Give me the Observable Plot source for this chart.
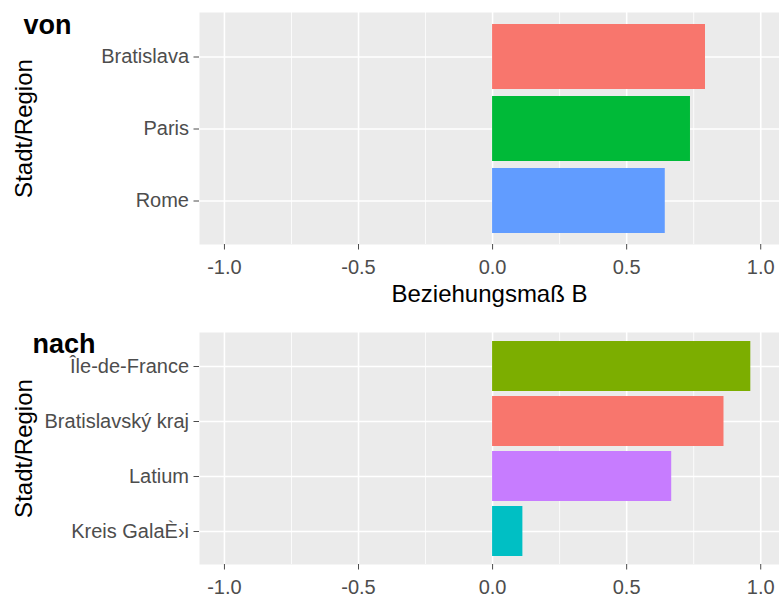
<!DOCTYPE html>
<html><head><meta charset="utf-8">
<script src="https://cdn.jsdelivr.net/npm/d3@7"></script>
<script src="https://cdn.jsdelivr.net/npm/@observablehq/plot@0.6"></script>
<style>
body{margin:0;background:#fff;font-family:"Liberation Sans",Arial,sans-serif;}
#wrap{position:relative;width:779px;height:597px;overflow:hidden;}
#top{position:absolute;left:0;top:0;}
#bottom{position:absolute;left:0;top:320px;}
</style></head><body><div id="wrap"><div id="top"></div><div id="bottom"></div></div>
<script>
// data
const vonNames = ["Bratislava", "Paris", "Rome"];
const vonValues = [0.794, 0.738, 0.644];
const vonColors = ["#F8766D", "#00BA38", "#619CFF"];

const nachNames = ["Île-de-France", "Bratislavský kraj", "Latium", "Kreis GalaÈ›i"];
const nachValues = [0.963, 0.863, 0.668, 0.113];
const nachColors = ["#7CAE00", "#F8766D", "#C77CFF", "#00BFC4"];

const xTicks = [-1, -0.5, 0, 0.5, 1];
const xMinor = [-0.75, -0.25, 0.25, 0.75];
const xDomain = [-1.093, 1.07];
const yLabel = "Stadt/Region";
const xLabel = "Beziehungsmaß B";

function panel({names, values, colors, title, titleDx, titleDy, xTitle, height, marginBottom}) {
  const data = names.map((n, i) => ({name: n, value: values[i], color: colors[i]}));
  const marks = [
    Plot.frame({fill: "#EBEBEB", stroke: "none"}),
    Plot.ruleX(xMinor, {stroke: "white", strokeWidth: 0.8}),
    Plot.ruleX(xTicks, {stroke: "white", strokeWidth: 1.6}),
    Plot.ruleY(names, {y: d => d, stroke: "white", strokeWidth: 1.6}),
    Plot.barX(data, {x: "value", y: "name", fill: "color"}),
    Plot.axisX({ticks: xTicks, tickFormat: d => d.toFixed(1), tickSize: 5.5, tickPadding: 10, fontSize: 20, color: "#4D4D4D", label: null}),
    Plot.axisY({tickSize: 5.5, tickPadding: 5, fontSize: 20, color: "#4D4D4D", label: null}),
    Plot.text([title], {frameAnchor: "top-left", text: d => d, dx: titleDx, dy: titleDy, textAnchor: "start", lineAnchor: "top", fontSize: 27, fontWeight: "bold", fill: "black"}),
    Plot.text([yLabel], {frameAnchor: "left", text: d => d, dx: -175, rotate: -90, fontSize: 24, fill: "black", textAnchor: "middle", lineAnchor: "middle"})
  ];
  if (xTitle) {
    marks.push(Plot.text([xTitle], {frameAnchor: "bottom", text: d => d, dy: 50, fontSize: 24, fill: "black", lineAnchor: "middle"}));
  }
  return Plot.plot({
    width: 779,
    height,
    marginLeft: 199,
    marginRight: 0,
    marginTop: 12,
    marginBottom,
    style: {fontFamily: "'Liberation Sans', Arial, sans-serif", background: "white", overflow: "visible"},
    x: {domain: xDomain, axis: null},
    y: {type: "band", domain: names, paddingInner: 0.1, paddingOuter: 0.15, align: 0.5, axis: null},
    color: {type: "identity"},
    marks
  });
}

document.getElementById("top").appendChild(panel({
  names: vonNames, values: vonValues, colors: vonColors,
  title: "von", titleDx: -176, titleDy: 2, xTitle: xLabel, height: 310, marginBottom: 66
}));
document.getElementById("bottom").appendChild(panel({
  names: nachNames, values: nachValues, colors: nachColors,
  title: "nach", titleDx: -167, titleDy: 1.5, xTitle: null, height: 277, marginBottom: 33
}));
</script></body></html>
